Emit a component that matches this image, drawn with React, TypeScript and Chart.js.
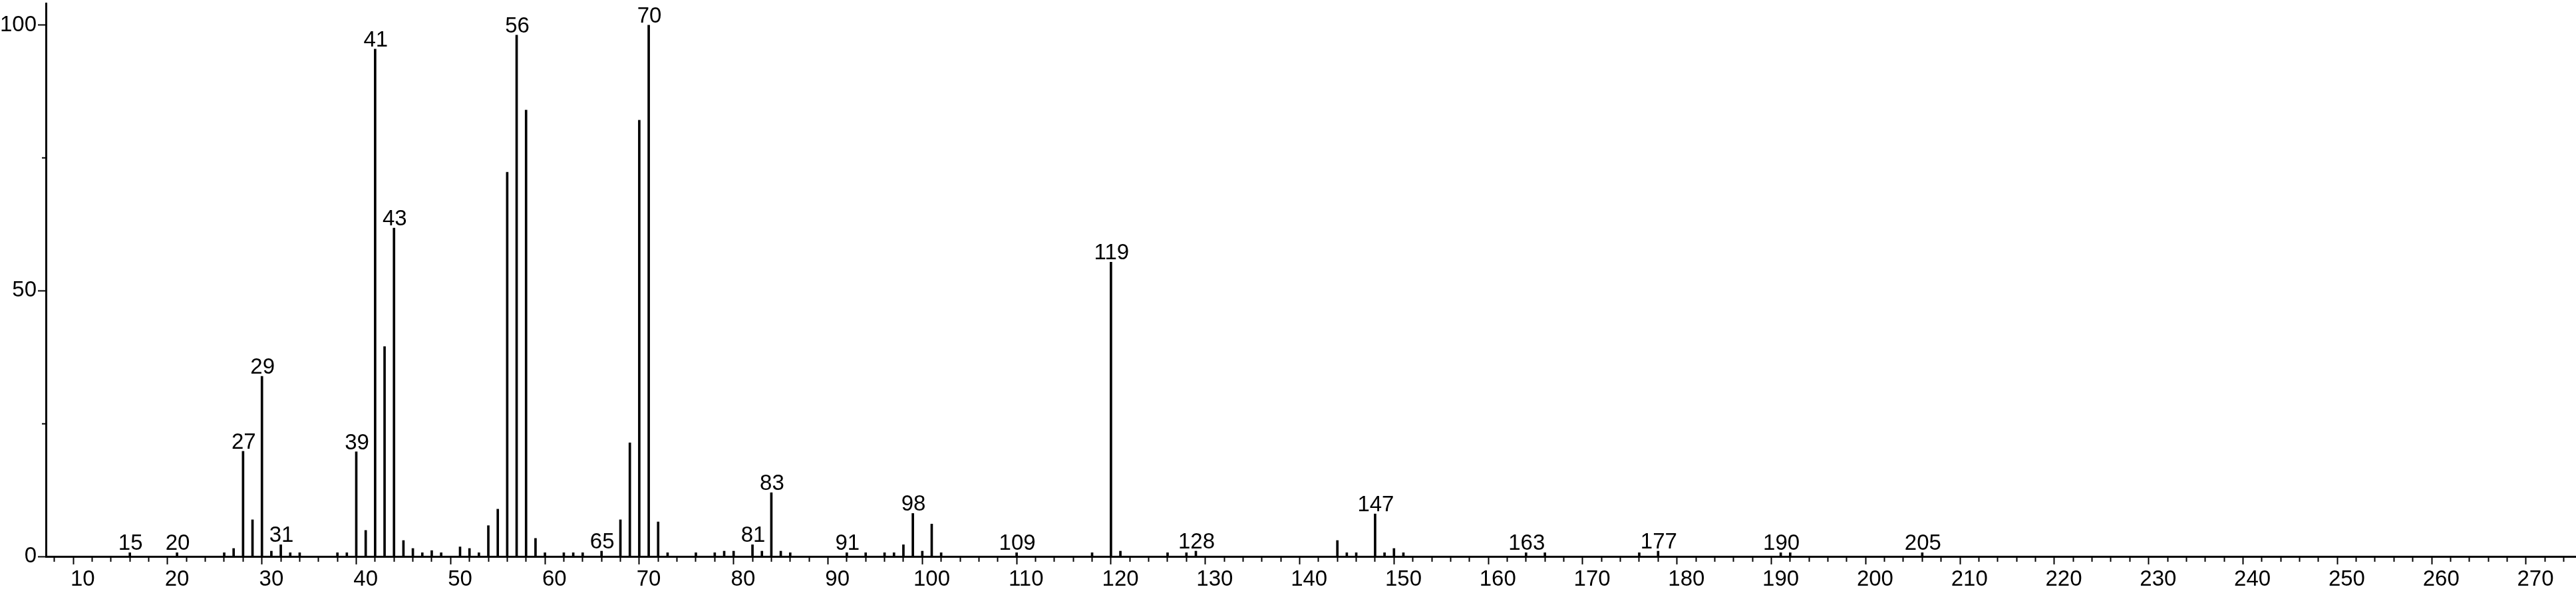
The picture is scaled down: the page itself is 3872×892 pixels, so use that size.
import React, { useEffect, useRef } from "react";
import { Chart, registerables } from "chart.js";

Chart.register(...registerables);

// m/z values of the peaks
const mz = [
  15, 20, 25, 26, 27, 28, 29, 30, 31, 32, 33, 37, 38, 39, 40, 41, 42, 43, 44, 45,
  46, 47, 48, 50, 51, 52, 53, 54, 55, 56, 57, 58, 59, 61, 62, 63, 65, 67, 68, 69,
  70, 71, 72, 75, 77, 78, 79, 81, 82, 83, 84, 85, 91, 93, 95, 96, 97, 98, 99, 100,
  101, 109, 117, 119, 120, 125, 127, 128, 143, 144, 145, 147, 148, 149, 150, 163, 165, 175, 177, 190,
  191, 205,
];

// relative intensities (%)
const intensity = [
  0.7, 0.7, 0.7, 1.5, 19.8, 6.9, 33.9, 1.0, 2.2, 0.7, 0.7, 0.7, 0.7, 19.7, 4.9, 95.5, 39.5, 61.8, 3.0, 1.5,
  0.7, 1.1, 0.7, 1.8, 1.5, 0.7, 5.8, 8.9, 72.3, 98.1, 84.0, 3.4, 0.7, 0.7, 0.7, 0.7, 1.0, 6.9, 21.4, 82.1,
  100, 6.5, 0.7, 0.7, 0.7, 1.0, 1.0, 2.2, 1.0, 12.0, 1.0, 0.7, 0.7, 0.7, 0.7, 0.7, 2.2, 8.1, 1.0, 6.1,
  0.7, 0.7, 0.7, 55.4, 1.0, 0.7, 0.7, 1.0, 3.0, 0.7, 0.7, 8.0, 0.7, 1.5, 0.7, 0.7, 0.7, 0.7, 1.0, 0.7,
  0.7, 0.7,
];

// peaks annotated with their m/z
const labeledPeaks = [15, 20, 27, 29, 31, 39, 41, 43, 56, 65, 70, 81, 83, 91, 98, 109, 119, 128, 147, 163, 177, 190, 205];

// axis ticks
const xMajorTicks = [10, 20, 30, 40, 50, 60, 70, 80, 90, 100, 110, 120, 130, 140, 150, 160, 170, 180, 190, 200, 210, 220, 230, 240, 250, 260, 270];
const xMinorStep = 2;
const yTicks = [0, 25, 50, 75, 100];
const yLabeledTicks = [0, 50, 100];

const X_MIN = 6.1;
const X_MAX = 274.3;
const Y_MIN = 0;
const Y_MAX = 104.1;

const FONT_FAMILY = '"Liberation Sans", Arial, Helvetica, sans-serif';
const FONT_SIZE = 33;

const xTickValues: number[] = [];
for (let v = 8; v <= 274; v += xMinorStep) xTickValues.push(v);

const peakLabelPlugin = {
  id: "peakLabels",
  afterDatasetsDraw(chart: any) {
    const meta = chart.getDatasetMeta(0);
    const ctx = chart.ctx;
    ctx.save();
    ctx.font = `${FONT_SIZE}px ${FONT_FAMILY}`;
    ctx.fillStyle = "#000";
    ctx.textAlign = "center";
    ctx.textBaseline = "alphabetic";
    labeledPeaks.forEach((m) => {
      const i = mz.indexOf(m);
      if (i < 0) return;
      const el = meta.data[i];
      if (!el) return;
      ctx.fillText(String(m), el.x + 1, el.y - 4);
    });
    ctx.restore();
  },
};

export default function App() {
  const canvasRef = useRef<HTMLCanvasElement | null>(null);

  useEffect(() => {
    document.body.style.margin = "0";
    const canvas = canvasRef.current;
    if (!canvas) return;
    const chart = new Chart(canvas, {
      type: "bar",
      data: {
        datasets: [
          {
            data: mz.map((m, i) => ({ x: m, y: intensity[i] })),
            backgroundColor: "#000",
            borderWidth: 0,
            barThickness: 3,
          },
        ],
      },
      options: {
        animation: false,
        responsive: false,
        maintainAspectRatio: false,
        layout: { padding: { top: 5, left: 0, right: 0, bottom: 0 } },
        plugins: {
          legend: { display: false },
          tooltip: { enabled: false },
        },
        scales: {
          x: {
            type: "linear",
            min: X_MIN,
            max: X_MAX,
            offset: false,
            afterBuildTicks: (s: any) => {
              s.ticks = xTickValues.map((v) => ({ value: v }));
            },
            afterFit: (s: any) => {
              s.height = 55;
              s.paddingLeft = 0;
              s.paddingRight = 0;
            },
            grid: {
              drawOnChartArea: false,
              drawTicks: true,
              tickLength: 12,
              tickWidth: 2,
              tickColor: "#000",
              tickBorderDash: (c: any) =>
                c.tick && xMajorTicks.includes(c.tick.value) ? [] : [6, 100],
            },
            border: { display: true, color: "#000", width: 3 },
            ticks: {
              autoSkip: false,
              maxRotation: 0,
              minRotation: 0,
              padding: 3,
              color: "#000",
              font: { family: FONT_FAMILY, size: FONT_SIZE },
              callback: (v: any) => (xMajorTicks.includes(v) ? String(v) : ""),
            },
          },
          y: {
            type: "linear",
            min: Y_MIN,
            max: Y_MAX,
            afterBuildTicks: (s: any) => {
              s.ticks = yTicks.map((v) => ({ value: v }));
            },
            afterFit: (s: any) => {
              s.width = 69;
              s.paddingTop = 0;
              s.paddingBottom = 0;
            },
            grid: {
              drawOnChartArea: false,
              drawTicks: true,
              tickLength: 12,
              tickWidth: 2,
              tickColor: "#000",
              tickBorderDash: (c: any) =>
                c.tick && yLabeledTicks.includes(c.tick.value) ? [] : [0, 6, 6, 100],
            },
            border: { display: true, color: "#000", width: 3 },
            ticks: {
              autoSkip: false,
              padding: 2,
              color: "#000",
              font: { family: FONT_FAMILY, size: FONT_SIZE },
              callback: (v: any) => (yLabeledTicks.includes(v) ? String(v) : ""),
            },
          },
        },
      },
      plugins: [peakLabelPlugin],
    } as any);
    return () => chart.destroy();
  }, []);

  return (
    <div style={{ width: 3872, height: 892 }}>
      <canvas ref={canvasRef} width={3872} height={892} style={{ display: "block" }} />
    </div>
  );
}
